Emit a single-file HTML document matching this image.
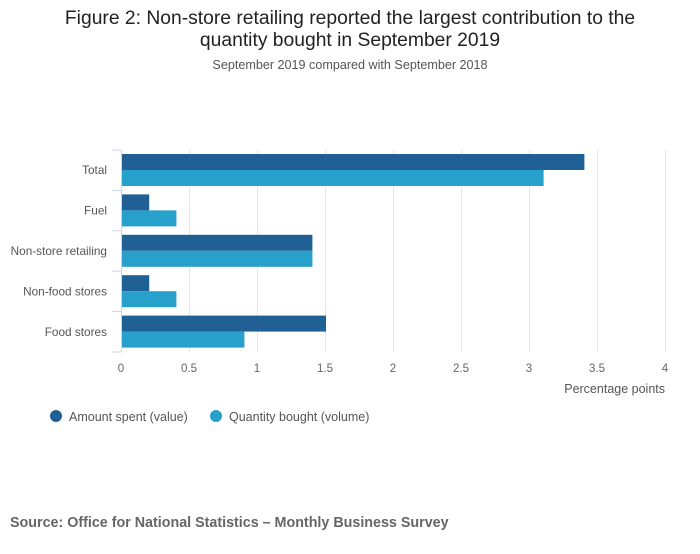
<!DOCTYPE html>
<html><head><meta charset="utf-8"><style>
body{margin:0;background:#fff;width:700px;height:549px;overflow:hidden;font-family:"Liberation Sans",sans-serif}
</style></head><body>
<svg width="700" height="549" xmlns="http://www.w3.org/2000/svg">
<text x="350" y="24" text-anchor="middle" font-size="19.3" fill="#222">Figure 2: Non-store retailing reported the largest contribution to the</text>
<text x="350" y="46" text-anchor="middle" font-size="19.3" fill="#222">quantity bought in September 2019</text>
<text x="350" y="69" text-anchor="middle" font-size="12.6" fill="#555">September 2019 compared with September 2018</text>
<g id="grid"></g><g id="bars"></g><g id="axes"></g>
<text x="665" y="393" text-anchor="end" font-size="12.5" fill="#555">Percentage points</text>
<circle cx="56" cy="416" r="6" fill="#206095"/>
<text x="69" y="421" font-size="12.5" fill="#555">Amount spent (value)</text>
<circle cx="216" cy="416" r="6" fill="#27a0cc"/>
<text x="229" y="421" font-size="12.5" fill="#555">Quantity bought (volume)</text>
<text x="10" y="527" font-size="14.3" font-weight="bold" fill="#666">Source: Office for National Statistics – Monthly Business Survey</text>
</svg>
<script>
const categories=["Total","Fuel","Non-store retailing","Non-food stores","Food stores"];
const valueSeries=[3.4,0.2,1.4,0.2,1.5];
const volumeSeries=[3.1,0.4,1.4,0.4,0.9];
const ticks=[0,0.5,1,1.5,2,2.5,3,3.5,4];
const NS="http://www.w3.org/2000/svg";
const x0=121,x1=665,yTop=150,yBot=352;
const xs=v=>x0+(v/4)*(x1-x0);
const band=(yBot-yTop)/categories.length;
function mk(t,a,p){const e=document.createElementNS(NS,t);for(const k in a)e.setAttribute(k,a[k]);p.appendChild(e);return e;}
const g=document.getElementById('grid'),b=document.getElementById('bars'),ax=document.getElementById('axes');
ticks.forEach(t=>{
 const l=mk('line',{x1:xs(t)+0.5,x2:xs(t)+0.5,y1:yTop,y2:yBot,stroke:t===0?'#ccd6eb':'#e6e6e6','stroke-width':1},g);
 
 
 const tx=mk('text',{x:xs(t),y:372,'text-anchor':'middle','font-size':11.5,fill:'#666'},ax);
 tx.textContent=String(t);
 
 
});
for(let i=0;i<=categories.length;i++){
 const y=yTop+i*band;
 const l=mk('line',{x1:112,x2:x0,y1:y,y2:y,stroke:'#ccd6eb'},ax);
 
 
}
categories.forEach((c,i)=>{
 const y=yTop+i*band;
 const t=mk('text',{x:107,y:y+band/2+4,'text-anchor':'end','font-size':11.8,fill:'#555'},ax);
 t.textContent=c;
 
 
 const r1=mk('rect',{x:xs(0)+1,y:y+4,width:xs(valueSeries[i])-xs(0),height:16,fill:'#206095'},b);
 
 
 const r2=mk('rect',{x:xs(0)+1,y:y+20,width:xs(volumeSeries[i])-xs(0),height:16,fill:'#27a0cc'},b);
 
 
});
</script>
</body></html>
